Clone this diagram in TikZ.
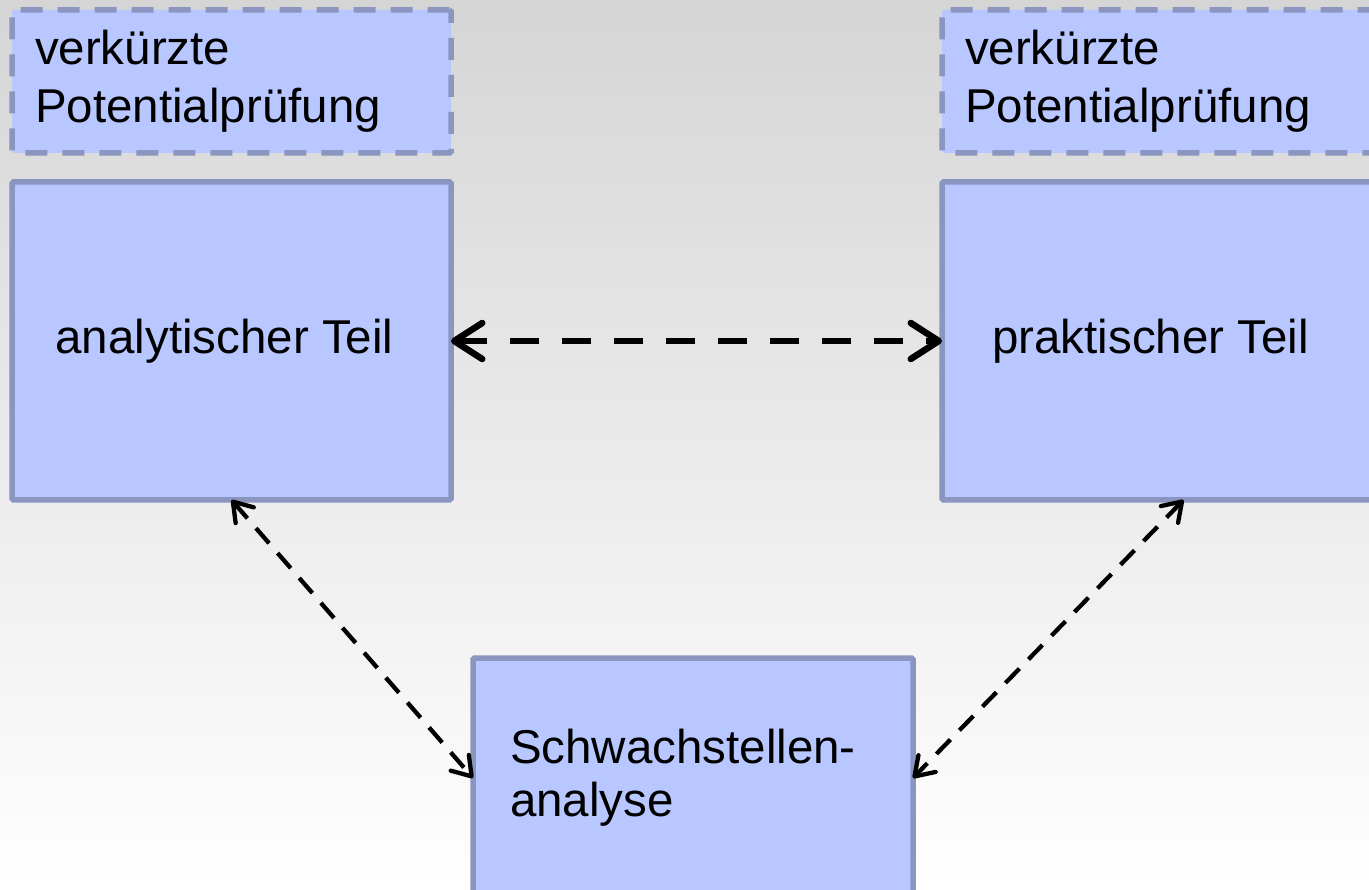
\documentclass[tikz,border=0pt]{standalone}
\usepackage{fontspec}
\setmainfont{Liberation Sans}
\usetikzlibrary{arrows.meta}
\definecolor{boxfill}{RGB}{184,199,255}
\definecolor{boxline}{RGB}{138,149,192}
\definecolor{bgtop}{RGB}{213,213,213}

\begin{document}
\begin{tikzpicture}[x=1pt,y=-1pt,
	box/.style={draw=boxline,fill=boxfill,line width=5.5pt,rounded corners=1.5pt,inner sep=0,outer sep=0,anchor=north west},
	shortbox/.style={box,dash pattern=on 22pt off 15pt,minimum width=439pt,minimum height=143pt,inner xsep=23pt,text width=393pt,align=left,font=\fontsize{47.5}{58}\selectfont},
	partbox/.style={box,minimum width=439pt,minimum height=318pt,align=center,font=\fontsize{47.5}{55}\selectfont},
	bigarrow/.style={line width=6.5pt,dash pattern=on 29pt off 23pt,>={Straight Barb[length=28pt,width=36pt,round]},<->},
	smallarrow/.style={line width=4.3pt,dash pattern=on 20pt off 13pt,>={Straight Barb[length=18pt,width=24pt,round]},<->}]
	\useasboundingbox (0,0) rectangle (1369,890);
	\shade[top color=bgtop,bottom color=white] (0,0) rectangle (1369,890);
	\node[shortbox] (kurzL) at (12,10) {verkürzte\\Potentialprüfung};
	\node[shortbox] (kurzR) at (942,10) {verkürzte\\Potentialprüfung};
	\node[partbox] (ana) at (12,182) {analytischer Teil\hspace{14pt}};
	\node[partbox] (prak) at (942,182) {praktischer Teil\hspace{22pt}};
	\node[box,minimum width=440pt,minimum height=240pt,inner xsep=37pt,text width=366pt,align=left,font=\fontsize{47.5}{53}\selectfont] (schw) at (473,658) {Schwachstellen-\\analyse};
	\draw[bigarrow] (ana) -- (prak);
	\draw[smallarrow] (ana.south) -- (schw.west);
	\draw[smallarrow] ([xshift=22pt]prak.south) -- (schw.east);
\end{tikzpicture}
\end{document}
